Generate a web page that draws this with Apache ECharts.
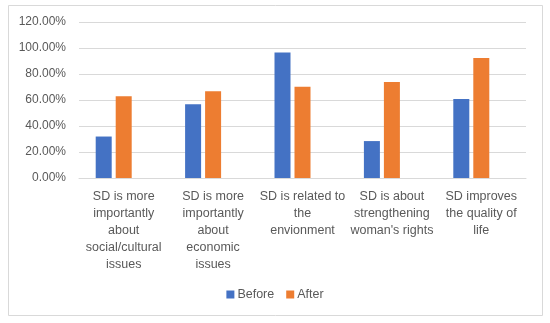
<!DOCTYPE html>
<html>
<head>
<meta charset="utf-8">
<script src="https://cdn.jsdelivr.net/npm/echarts@6/dist/echarts.min.js"></script>
<style>html,body{margin:0;padding:0;background:#fff;}#c{width:550px;height:323px;}</style>
</head>
<body>
<div id="c"></div>
<script>
var categories = [
  "SD is more\nimportantly\nabout\nsocial/cultural\nissues",
  "SD is more\nimportantly\nabout\neconomic\nissues",
  "SD is related to\nthe\nenvionment",
  "SD is about\nstrengthening\nwoman's rights",
  "SD improves\nthe quality of\nlife"
];
var before = [0.319, 0.567, 0.966, 0.284, 0.608];
var after = [0.628, 0.667, 0.702, 0.738, 0.924];
var hidden = [null, null, null, null, null];
var yTicks = { min: 0, max: 1.2, interval: 0.2 };

var chart = echarts.init(document.getElementById('c'), null, { renderer: 'canvas' });
var font = "'Liberation Sans', Arial, sans-serif";
chart.setOption({
  animation: false,
  backgroundColor: '#fff',
  graphic: [{
    type: 'rect',
    shape: { x: 8.5, y: 5.5, width: 534, height: 310 },
    style: { fill: 'none', stroke: '#d9d9d9', lineWidth: 1 },
    silent: true
  }],
  grid: { left: 79, right: 24, top: 22, bottom: 145, containLabel: false },
  legend: {
    data: ['Before', 'After'],
    bottom: 17,
    left: 'center',
    itemWidth: 8,
    itemHeight: 8,
    itemGap: 12,
    icon: 'rect',
    textStyle: { color: '#595959', fontSize: 12.5, fontFamily: font, padding: [0, 0, 0, -2] }
  },
  xAxis: {
    type: 'category',
    data: categories,
    axisLine: { lineStyle: { color: '#d9d9d9', width: 1 } },
    axisTick: { show: false },
    axisLabel: { color: '#595959', fontSize: 12.5, fontFamily: font, lineHeight: 17, margin: 10, interval: 0 }
  },
  yAxis: {
    type: 'value',
    min: yTicks.min, max: yTicks.max, interval: yTicks.interval,
    axisLine: { show: false },
    axisTick: { show: false },
    splitLine: { lineStyle: { color: '#d9d9d9', width: 1 } },
    axisLabel: {
      color: '#595959', fontSize: 12, fontFamily: font, margin: 13,
      formatter: function (v) { return (v * 100).toFixed(2) + '%'; }
    }
  },
  series: [
    { name: 'Before', type: 'bar', data: before, barWidth: 16, barGap: '25%', itemStyle: { color: '#4472C4' } },
    { name: 'After', type: 'bar', data: after, barWidth: 16, barGap: '25%', itemStyle: { color: '#ED7D31' } },
    { name: '', type: 'bar', data: hidden, barWidth: 16, barGap: '25%', itemStyle: { color: 'transparent' } }
  ]
});
</script>
</body>
</html>
